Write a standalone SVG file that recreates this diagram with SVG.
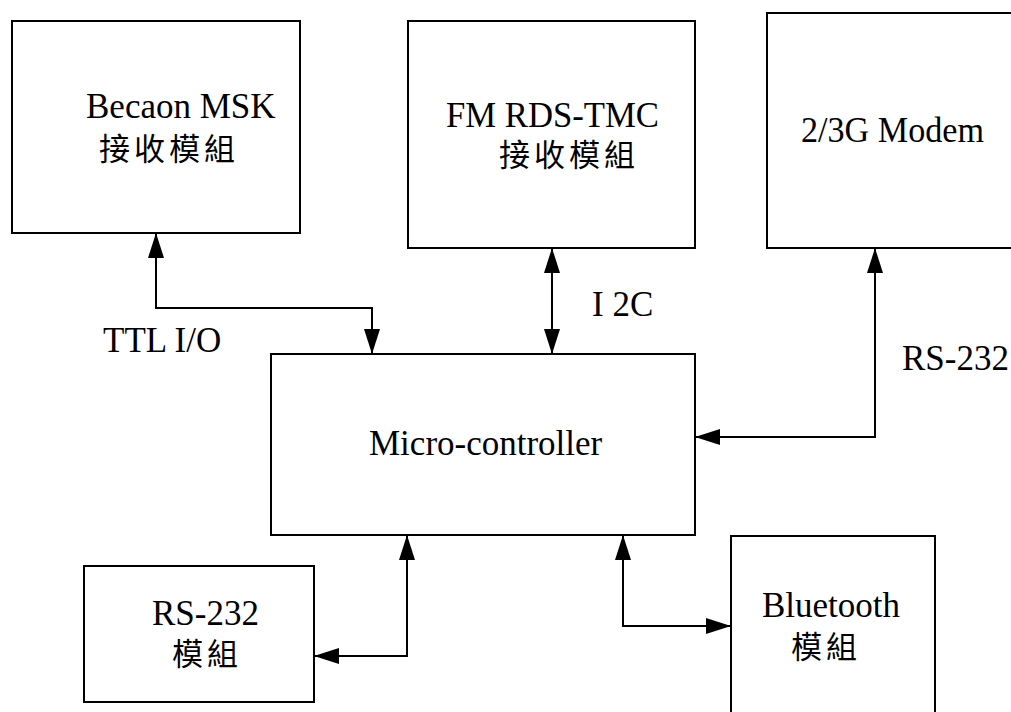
<svg xmlns="http://www.w3.org/2000/svg" width="1011" height="712" viewBox="0 0 1011 712">
<style>
.box{fill:#fff;stroke:#000;stroke-width:2}
.lbl{font-family:"Liberation Serif","Times New Roman",serif;font-size:35px;fill:#000}
.cjk{font-family:"Liberation Serif","Noto Sans CJK TC",serif;font-size:31px;letter-spacing:4px;fill:#000}
.wire{fill:none;stroke:#000;stroke-width:2}
</style>
<defs>
<marker id="arr" viewBox="0 0 25 16" refX="25" refY="8" markerWidth="25" markerHeight="16" markerUnits="userSpaceOnUse" orient="auto-start-reverse">
<path d="M0,0 L25,8 L0,16 z" fill="#000"/>
</marker>
</defs>
<rect width="1011" height="712" fill="#fff"/>
<g id="becaon">
<rect class="box" x="12" y="21" width="288" height="212"/>
<text class="lbl" x="86" y="118">Becaon MSK</text>
<text class="cjk" x="99" y="160">接收模組</text>
</g>
<g id="fm">
<rect class="box" x="408" y="21" width="287" height="227"/>
<text class="lbl" x="446" y="127" textLength="213" lengthAdjust="spacingAndGlyphs">FM RDS-TMC</text>
<text class="cjk" x="499" y="166">接收模組</text>
</g>
<g id="modem">
<rect class="box" x="767" y="13" width="270" height="235"/>
<text class="lbl" x="801" y="142" textLength="183" lengthAdjust="spacingAndGlyphs">2/3G Modem</text>
</g>
<g id="mcu">
<rect class="box" x="271" y="354" width="424" height="181"/>
<text class="lbl" x="369" y="455">Micro-controller</text>
</g>
<g id="rs232">
<rect class="box" x="84" y="566" width="230" height="136"/>
<text class="lbl" x="152" y="625">RS-232</text>
<text class="cjk" x="172" y="665">模組</text>
</g>
<g id="bluetooth">
<rect class="box" x="731" y="536" width="204" height="190"/>
<text class="lbl" x="762" y="617">Bluetooth</text>
<text class="cjk" x="791" y="658">模組</text>
</g>
<g id="connectors">
<path class="wire" d="M156,233 V308 H372 V354" marker-start="url(#arr)" marker-end="url(#arr)"/>
<path class="wire" d="M552,248 V354" marker-start="url(#arr)" marker-end="url(#arr)"/>
<path class="wire" d="M875,248 V437 H695" marker-start="url(#arr)" marker-end="url(#arr)"/>
<path class="wire" d="M407,535 V656 H314" marker-start="url(#arr)" marker-end="url(#arr)"/>
<path class="wire" d="M623,535 V626 H731" marker-start="url(#arr)" marker-end="url(#arr)"/>
</g>
<g id="labels">
<text class="lbl" x="103" y="352">TTL I/O</text>
<text class="lbl" x="592" y="316">I 2C</text>
<text class="lbl" x="902" y="370">RS-232</text>
</g>
</svg>
